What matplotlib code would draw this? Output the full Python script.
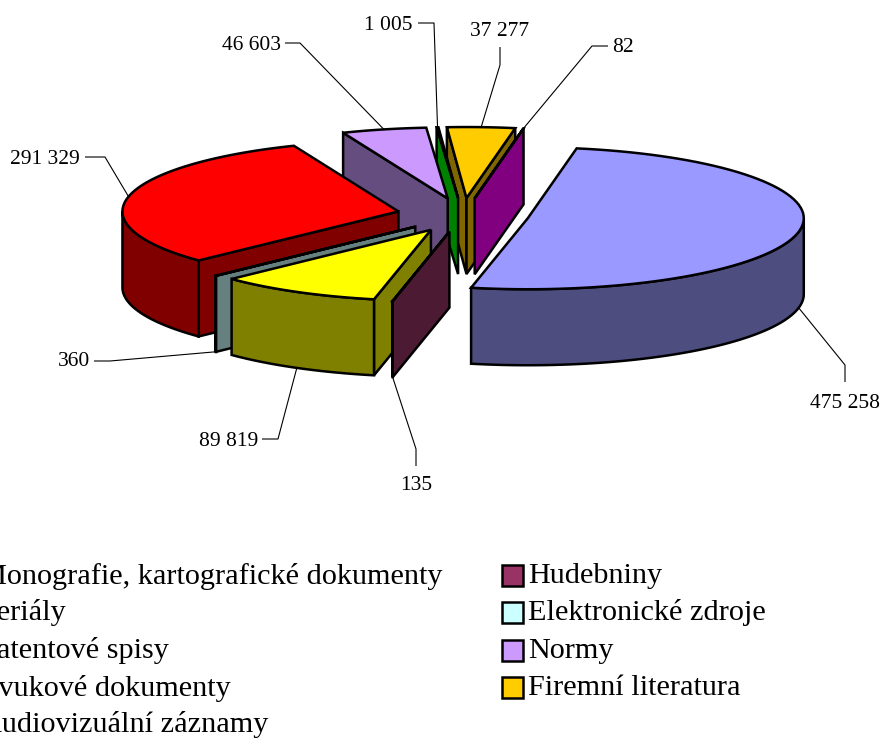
import numpy as np
import matplotlib
matplotlib.use('Agg')
import matplotlib.pyplot as plt
from matplotlib.patches import Polygon, Rectangle

plt.rcParams['font.family'] = ['Liberation Serif', 'DejaVu Serif']

# Slices in clockwise order, starting right after the top of the pie
values = [475258, 135, 89819, 360, 291329, 46603, 1005, 37277, 82]
value_labels = ['475 258', '135', '89 819', '360', '291 329', '46 603', '1 005', '37 277', '82']
top_colors = ['#9999FF', '#993366', '#FFFF00', '#CCFFFF', '#FF0000', '#CC99FF', '#00FF00', '#FFCC00', '#FF00FF']
wall_colors = ['#4D4D80', '#4D1A33', '#808000', '#668080', '#800000', '#664D80', '#008000', '#806600', '#800080']

# Label text position, alignment and elbow of each leader line (pixels)
label_pos = [(845, 403), (416, 486), (258, 442), (90, 362), (80, 159), (281, 45), (413, 25), (500, 31), (612, 48)]
label_ha = ['center', 'center', 'right', 'right', 'right', 'right', 'right', 'center', 'left']
elbows = [(845, 365), (416, 449), (278, 439), (110, 361), (105, 157), (300, 43), (434, 23), (500, 65), (592, 46)]
label_ends = [(845, 382), (416, 466), (262, 439), (94, 361), (85, 157), (285, 43), (418, 23), (500, 47), (608, 46)]

legend_left = ['Monografie, kartografické dokumenty', 'Seriály', 'Patentové spisy',
               'Zvukové dokumenty', 'Audiovizuální záznamy']
legend_right = ['Hudebniny', 'Elektronické zdroje', 'Normy', 'Firemní literatura']
legend_right_colors = ['#993366', '#CCFFFF', '#CC99FF', '#FFCC00']
legend_y = [575, 612, 650, 687, 724]

# Pie geometry in pixels
cx, cy = 463, 215
rx, ry = 276, 71
explode = 66
depth = 76
start = 10.2

fig = plt.figure(figsize=(8.83, 7.38), dpi=100)
ax = fig.add_axes([0, 0, 1, 1])
ax.set_xlim(0, 883)
ax.set_ylim(738, 0)
ax.axis('off')

fractions = np.array(values) / sum(values) * 360
a0s = start + np.concatenate([[0], np.cumsum(fractions)[:-1]])
a1s = a0s + fractions
mids = (a0s + a1s) / 2


def apex(mid):
    m = np.radians(mid)
    scale = explode / rx
    return cx + rx * scale * np.sin(m), cy - ry * scale * np.cos(m)


def rim(ax0, ay0, t):
    t = np.radians(t)
    return np.column_stack([ax0 + rx * np.sin(t), ay0 - ry * np.cos(t)])


def poly(points, color):
    ax.add_patch(Polygon(points, closed=True, facecolor=color, edgecolor='black',
                         linewidth=1.8, joinstyle='miter'))


# Draw from the back of the pie to the front
for i in np.argsort(-np.cos(np.radians(mids))):
    a0, a1 = a0s[i], a1s[i]
    x0, y0 = apex(mids[i])
    # cut faces that look towards the viewer
    for t, visible in ((a0, np.sin(np.radians(a0)) < 0), (a1, np.sin(np.radians(a1)) > 0)):
        if visible:
            p = rim(x0, y0, np.array([t]))[0]
            poly([(x0, y0), p, (p[0], p[1] + depth), (x0, y0 + depth)], wall_colors[i])
    # outer wall, front half only
    lo, hi = max(a0, 90), min(a1, 270)
    if lo < hi:
        arc = rim(x0, y0, np.linspace(lo, hi, 60))
        poly(np.vstack([arc, (arc + [0, depth])[::-1]]), wall_colors[i])
    # top face
    arc = rim(x0, y0, np.linspace(a0, a1, 80))
    poly(np.vstack([[(x0, y0)], arc]), top_colors[i])

# Data labels with leader lines
for i in range(len(values)):
    x0, y0 = apex(mids[i])
    p = rim(x0, y0, np.array([mids[i]]))[0]
    if np.cos(np.radians(mids[i])) < 0:
        p = p + [0, depth]
    xs = [p[0], elbows[i][0], label_ends[i][0]]
    ys = [p[1], elbows[i][1], label_ends[i][1]]
    ax.plot(xs, ys, color='black', lw=0.8, solid_capstyle='butt')
    ax.text(label_pos[i][0], label_pos[i][1], value_labels[i], ha=label_ha[i], va='center',
            fontsize=15.5, color='black')

# Legend (left column runs off the picture as in the original)
for y, name in zip(legend_y, legend_left):
    ax.text(-20, y + 1, name, ha='left', va='center', fontsize=21.8, color='black', clip_on=False)
for y, name, color in zip(legend_y, legend_right, legend_right_colors):
    ax.add_patch(Rectangle((502, y - 10.5), 21, 21, facecolor=color, edgecolor='black', linewidth=1.8))
    ax.text(528, y + 1, name, ha='left', va='center', fontsize=21.8, color='black')

fig.savefig('out.png', dpi=100, facecolor='white')
